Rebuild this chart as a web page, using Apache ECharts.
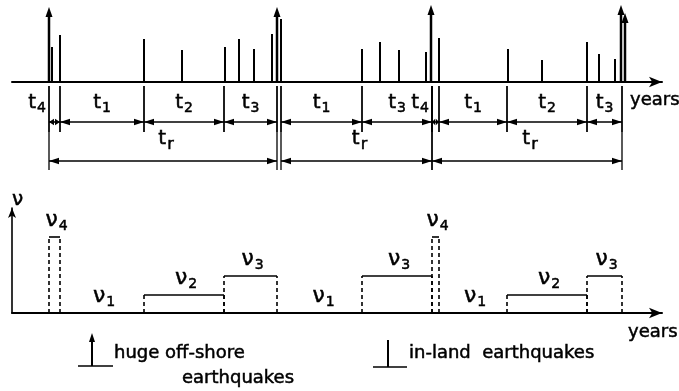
<!DOCTYPE html>
<html><head><meta charset="utf-8">
<script src="https://cdn.jsdelivr.net/npm/echarts@6/dist/echarts.min.js"></script>
<style>html,body{margin:0;padding:0;background:#fff}#c{width:679px;height:391px}</style>
</head><body><div id="c"></div>
<script>
// ---- data (schematic time units along the years axis) ----
const hugeTimes   = [37, 265, 419, 609, 613];
const hugeSizes   = [75, 75, 77, 77, 69];
const inlandTimes = [40, 48, 132, 170, 213, 227, 242, 260, 269, 350, 368, 387, 414, 427, 496, 530, 575, 587, 603];
const inlandSizes = [35, 47, 43, 32, 35, 43, 33, 48, 63, 33, 40, 32, 30, 44, 33, 22, 40, 28, 23];
const phaseStart  = [37, 48, 132, 212, 269, 350, 420, 427, 495, 575];
const phaseEnd    = [48, 132, 212, 265, 350, 420, 427, 495, 575, 610];
const phaseIndex  = [4, 1, 2, 3, 1, 3, 4, 1, 2, 3];
const cycleStart  = [37, 269, 420];
const cycleEnd    = [265, 420, 610];
const rateLevels  = [0, 18, 37, 76];      // nu1 .. nu4
const phaseSymbol = 't';
const rateSymbol  = 'ν';
const cycleSub    = 'r';
const axisTitle   = 'years';

const FONT = 'DejaVu Sans';
const INK = '#000';
const TW = 0.5; // slight text weight

function head(tip, dir, len, half) {
  return {type: 'polygon', shape: {points: [[tip[0], tip[1]], [tip[0] - dir * len, tip[1] - half], [tip[0] - dir * len, tip[1] + half]]},
          style: {fill: INK}};
}
function dim(api, xs, xe, yv) {
  const a = api.coord([xs, yv]), b = api.coord([xe, yv]);
  const len = Math.min(10, (b[0] - a[0]) / 2.2);
  return [
    {type: 'line', shape: {x1: a[0], y1: a[1], x2: b[0], y2: b[1]}, style: {stroke: INK, lineWidth: 1.6}},
    head(a, -1, len, 3.2), head(b, 1, len, 3.2)
  ];
}
function vline(api, xv, y0, y1, w, dash) {
  const a = api.coord([xv, y0]), b = api.coord([xv, y1]);
  return {type: 'line', shape: {x1: a[0], y1: a[1], x2: b[0], y2: b[1]},
          style: {stroke: INK, lineWidth: w, lineDash: dash || null}};
}
function subText(x, y, main, sub, mainSize, subSize, pad) {
  return {type: 'text', x: x, y: y,
    style: {text: '{m|' + main + '}{s|' + sub + '}', align: 'center', verticalAlign: 'middle',
      rich: {m: {fontSize: mainSize, fontFamily: FONT, fill: INK, stroke: INK, lineWidth: TW},
             s: {fontSize: subSize, fontFamily: FONT, fill: INK, stroke: INK, lineWidth: TW, padding: [pad, 0, 0, 1]}}}};
}
function plainText(x, y, txt) {
  return {type: 'text', x: x, y: y, style: {text: txt, fontFamily: FONT, fontSize: 18, fill: INK,
          stroke: INK, lineWidth: TW, verticalAlign: 'middle'}};
}

const chart = echarts.init(document.getElementById('c'), null, {renderer: 'canvas'});
const axisArrow = {show: true, onZero: true, symbol: ['none', 'arrow'], symbolSize: [8, 13],
                   lineStyle: {color: INK, width: 2}};
chart.setOption({
  animation: false,
  backgroundColor: '#fff',
  grid: [
    {left: 12, right: 17, top: 2, height: 170},
    {left: 12, right: 17, top: 208, height: 105}
  ],
  xAxis: [
    {gridIndex: 0, type: 'value', min: 0, max: 650, axisLine: axisArrow,
     axisTick: {show: false}, axisLabel: {show: false}, splitLine: {show: false}},
    {gridIndex: 1, type: 'value', min: 0, max: 650, axisLine: axisArrow,
     axisTick: {show: false}, axisLabel: {show: false}, splitLine: {show: false}}
  ],
  yAxis: [
    {gridIndex: 0, type: 'value', min: -90, max: 80, show: false},
    {gridIndex: 1, type: 'value', min: 0, max: 105,
     axisLine: {show: true, symbol: ['none', 'arrow'], symbolSize: [6, 10], lineStyle: {color: INK, width: 1.6}},
     axisTick: {show: false}, axisLabel: {show: false}, splitLine: {show: false},
     name: rateSymbol, nameLocation: 'end', nameGap: 8,
     nameTextStyle: {fontFamily: FONT, fontSize: 20, color: INK, align: 'left', verticalAlign: 'middle',
                     textBorderColor: INK, textBorderWidth: TW}}
  ],
  series: [
    {name: 'in-land earthquakes', type: 'custom', xAxisIndex: 0, yAxisIndex: 0,
     data: inlandTimes.map((t, i) => [t, inlandSizes[i]]),
     renderItem: (p, api) => vline(api, api.value(0), 0, api.value(1), 2)},
    {name: 'huge off-shore earthquakes', type: 'custom', xAxisIndex: 0, yAxisIndex: 0,
     data: hugeTimes.map((t, i) => [t, hugeSizes[i]]),
     renderItem: (p, api) => {
       const b = api.coord([api.value(0), 0]), t = api.coord([api.value(0), api.value(1)]);
       return {type: 'group', children: [
         {type: 'line', shape: {x1: b[0], y1: b[1], x2: t[0], y2: t[1] + 6}, style: {stroke: INK, lineWidth: 2.5}},
         {type: 'polygon', shape: {points: [[t[0], t[1]], [t[0] - 3.5, t[1] + 10], [t[0] + 3.5, t[1] + 10]]}, style: {fill: INK}}
       ]};
     }},
    {name: 'phases', type: 'custom', xAxisIndex: 0, yAxisIndex: 0,
     data: phaseStart.map((s, i) => [s, phaseEnd[i], phaseIndex[i]]),
     renderItem: (p, api) => {
       const s = api.value(0), e = api.value(1), k = api.value(2);
       const lx = (e - s) < 20 ? s - 12 : (s + e) / 2;
       const c = api.coord([lx, -21]);
       return {type: 'group', children: [
         vline(api, s, -4, -50, 1.3), vline(api, e, -4, -50, 1.3),
         ...dim(api, s, e, -40),
         subText(c[0], c[1], phaseSymbol, String(k), 20, 14, 11)
       ]};
     }},
    {name: 'cycles', type: 'custom', xAxisIndex: 0, yAxisIndex: 0,
     data: cycleStart.map((s, i) => [s, cycleEnd[i]]),
     renderItem: (p, api) => {
       const s = api.value(0), e = api.value(1);
       const c = api.coord([(s + e) / 2 + 3, -56.5]);
       return {type: 'group', children: [
         vline(api, s, -4, -88, 1.3), vline(api, e, -4, -88, 1.3),
         ...dim(api, s, e, -79),
         subText(c[0], c[1], phaseSymbol, cycleSub, 20, 16, 12)
       ]};
     }},
    {name: 'rates', type: 'custom', xAxisIndex: 1, yAxisIndex: 1,
     data: phaseStart.map((s, i) => [s, phaseEnd[i], phaseIndex[i]]),
     renderItem: (p, api) => {
       const s = api.value(0), e = api.value(1), k = api.value(2);
       const lvl = rateLevels[k - 1];
       const kids = [];
       if (lvl > 0) {
         const a = api.coord([s, lvl]), b = api.coord([e, lvl]);
         kids.push(vline(api, s, 0, lvl, 1.6, [4, 3]), vline(api, e, 0, lvl, 1.6, [4, 3]));
         kids.push({type: 'line', shape: {x1: a[0], y1: a[1], x2: b[0], y2: b[1]}, style: {stroke: INK, lineWidth: 1.6}});
       }
       const c = api.coord([(s + e) / 2 + 2, lvl]);
       kids.push(subText(c[0], c[1] - 17, rateSymbol, String(k), 22, 14, 13));
       return {type: 'group', children: kids};
     }}
  ],
  graphic: [
    plainText(630, 100, axisTitle),
    plainText(628, 332, axisTitle),
    {type: 'line', shape: {x1: 78, y1: 366, x2: 113, y2: 366}, style: {stroke: INK, lineWidth: 1.5}},
    {type: 'line', shape: {x1: 92, y1: 366, x2: 92, y2: 339}, style: {stroke: INK, lineWidth: 2}},
    {type: 'polygon', shape: {points: [[92, 333], [89, 342], [95, 342]]}, style: {fill: INK}},
    plainText(114, 353, 'huge off-shore'),
    plainText(182, 378, 'earthquakes'),
    {type: 'line', shape: {x1: 373, y1: 367, x2: 407, y2: 367}, style: {stroke: INK, lineWidth: 1.5}},
    {type: 'line', shape: {x1: 388, y1: 367, x2: 388, y2: 340}, style: {stroke: INK, lineWidth: 2}},
    plainText(409, 353, 'in-land  earthquakes')
  ]
});
</script></body></html>
